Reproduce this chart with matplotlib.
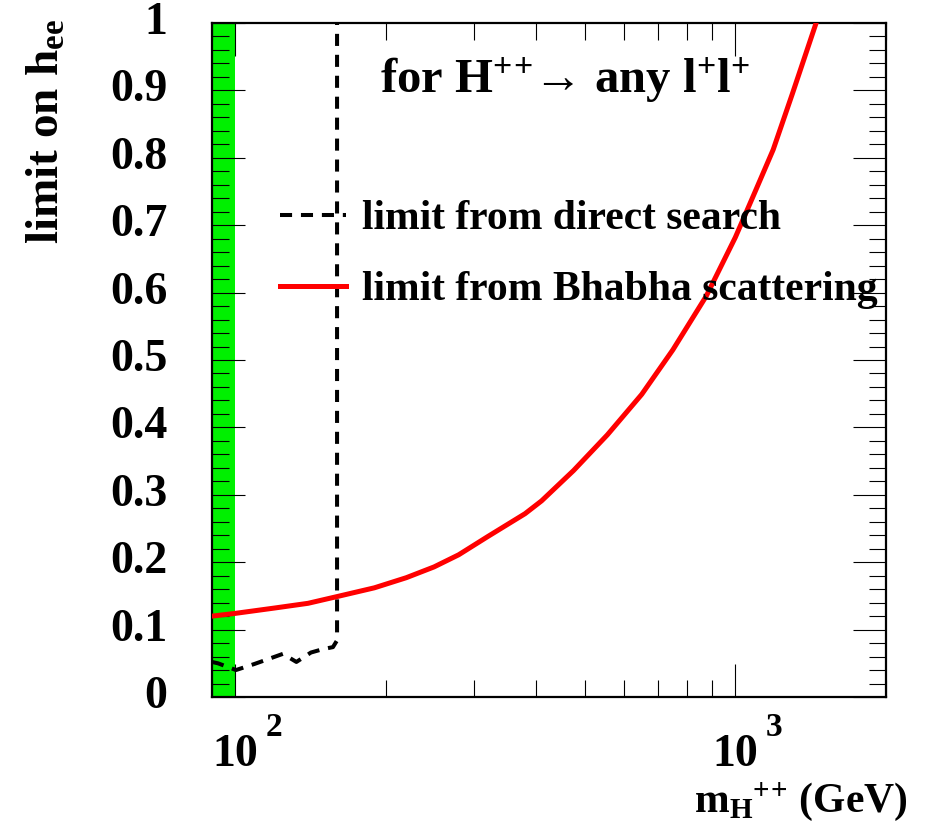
import numpy as np
import matplotlib
matplotlib.use("Agg")
import matplotlib.pyplot as plt
from matplotlib.ticker import FixedLocator, MultipleLocator, NullFormatter, FuncFormatter

plt.rcParams['font.family'] = ['Liberation Serif', 'DejaVu Serif']
plt.rcParams['font.weight'] = 'bold'
plt.rcParams['mathtext.fontset'] = 'custom'
plt.rcParams['mathtext.rm'] = 'Liberation Serif:bold'
plt.rcParams['mathtext.it'] = 'Liberation Serif:bold'
plt.rcParams['mathtext.bf'] = 'Liberation Serif:bold'
plt.rcParams['mathtext.default'] = 'rm'

# Excluded low-mass region (GeV)
band_mass = [90, 100]

# Direct search limit (GeV, limit on h_ee)
direct_mass = [90, 92.5, 100.5, 109.4, 115.3, 124.7, 132.7, 141.9, 149.9, 157.0, 160.0, 160.0]
direct_limit = [0.052, 0.050, 0.040, 0.049, 0.055, 0.064, 0.052, 0.066, 0.071, 0.074, 0.084, 1.05]

# Bhabha scattering limit (GeV, limit on h_ee)
bhabha_mass = [90, 100, 120, 140, 160, 190, 220, 250, 280, 320, 380, 410, 475, 555, 650,
               750, 875, 1000, 1100, 1190, 1300, 1450, 1500]
bhabha_limit = [0.120, 0.124, 0.132, 0.139, 0.149, 0.162, 0.177, 0.193, 0.211, 0.238, 0.272,
                0.291, 0.336, 0.389, 0.449, 0.515, 0.595, 0.682, 0.753, 0.812, 0.895, 1.0, 1.03]

x_major = [100, 1000]
x_minor = [90, 200, 300, 400, 500, 600, 700, 800, 900, 2000]
x_label_base = ["10", "10"]
x_label_exp = ["2", "3"]

fig = plt.figure(figsize=(9.30, 8.34), dpi=100)
ax = fig.add_axes([212/930, 1-697/834, 674/930, 674/834])

ax.axvspan(band_mass[0], band_mass[1], color='#00f000', lw=0, zorder=0)

ax.plot(direct_mass, direct_limit, color='black', lw=2.9, dashes=(3.0, 2.2),
        label='limit from direct search', zorder=3)
ax.plot(bhabha_mass, bhabha_limit, color='#ff0000', lw=3.6,
        label='limit from Bhabha scattering', zorder=3)

ax.set_xscale('log')
ax.set_xlim(90, 2000)
ax.set_ylim(0, 1)

ax.xaxis.set_major_locator(FixedLocator(x_major))
ax.xaxis.set_minor_locator(FixedLocator(x_minor))
ax.xaxis.set_major_formatter(NullFormatter())
ax.xaxis.set_minor_formatter(NullFormatter())
ax.yaxis.set_major_locator(MultipleLocator(0.1))
ax.yaxis.set_minor_locator(MultipleLocator(0.02))
ax.yaxis.set_major_formatter(FuncFormatter(
    lambda v, p: '0' if abs(v) < 1e-9 else ('1' if abs(v - 1) < 1e-9 else f'{v:.1f}')))

ax.tick_params(which='both', direction='in', top=True, right=True, width=0.8, color='black')
ax.tick_params(which='major', length=24)
ax.tick_params(which='minor', length=12)
ax.tick_params(axis='y', which='major', labelsize=33, pad=32)
for lab in ax.get_yticklabels():
    lab.set_fontweight('bold')
    lab.set_verticalalignment('center')
for s in ax.spines.values():
    s.set_linewidth(1.6)

for v, b, e in zip(x_major, x_label_base, x_label_exp):
    ax.annotate(b, xy=(v, 0), xycoords=('data', 'axes fraction'), xytext=(0, -42),
                textcoords='offset points', ha='center', va='center', fontsize=33,
                fontweight='bold')
    ax.annotate(e, xy=(v, 0), xycoords=('data', 'axes fraction'), xytext=(28, -22),
                textcoords='offset points', ha='center', va='center', fontsize=24,
                fontweight='bold')

ax.text((380-212)/674, (697-92)/674, 'for H$^{+}$$^{+}$\u2192 any l$^{+}$l$^{+}$',
        transform=ax.transAxes, ha='left', va='baseline', fontsize=35, fontweight='bold')

leg = ax.legend(loc='upper left', bbox_to_anchor=((280-212)/674, (697-200)/674),
                frameon=False, fontsize=30, handlelength=1.58, handletextpad=0.38,
                labelspacing=0.79, borderpad=0, borderaxespad=0)
for t in leg.get_texts():
    t.set_fontweight('bold')

fig.text(48/930, 1-131/834, r'limit on h$_{\mathrm{ee}}$', rotation=90, ha='center',
         va='center', fontsize=34, fontweight='bold')
fig.text(908/930, 1-812/834, r'm$_{\mathrm{H}}$$^{+}$$^{+}$ (GeV)', ha='right', va='baseline',
         fontsize=30, fontweight='bold')

fig.savefig('out.png', dpi=100)
